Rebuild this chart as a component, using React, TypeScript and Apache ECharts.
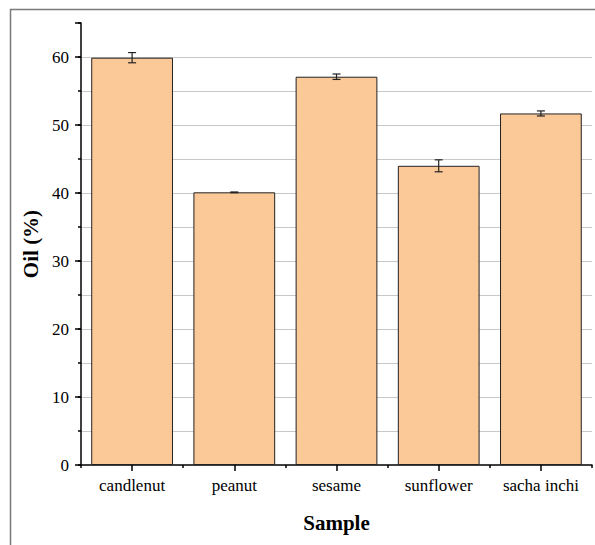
import React, { useEffect, useRef } from "react";
import * as echarts from "echarts";

const categories = ["candlenut", "peanut", "sesame", "sunflower", "sacha inchi"];
const oilValues = [59.9, 40.1, 57.1, 44.0, 51.7];
const oilErrors = [0.75, 0.05, 0.4, 0.88, 0.37];

const FONT = "'Liberation Serif', 'Times New Roman', serif";

export default function App() {
  const ref = useRef<HTMLDivElement>(null);
  useEffect(() => {
    document.body.style.margin = "0";
    if (!ref.current) return;
    const chart = echarts.init(ref.current, null, { renderer: "svg" });
    const errData = categories.map((_, i) => [i, oilValues[i], oilErrors[i]]);
    chart.setOption({
      animation: false,
      backgroundColor: "#ffffff",
      textStyle: { fontFamily: FONT },
      graphic: [
        {
          type: "line",
          shape: { x1: 82, y1: 23, x2: 600, y2: 23 },
          style: { stroke: "#ffffff", lineWidth: 3 },
          silent: true,
          z: 50,
        },
        {
          type: "rect",
          shape: { x: 10.5, y: 9.5, width: 700, height: 700 },
          style: { fill: "none", stroke: "#7a7a7a", lineWidth: 1.5 },
          silent: true,
          z: 100,
        },
      ],
      grid: { left: 81, right: 3, top: 23, bottom: 80, containLabel: false },
      xAxis: [
        {
          type: "category",
          data: categories,
          name: "Sample",
          nameLocation: "middle",
          nameGap: 47,
          nameTextStyle: { fontFamily: FONT, fontSize: 21, fontWeight: "bold", color: "#000" },
          axisLine: { show: true, lineStyle: { color: "#000", width: 1.5 } },
          axisTick: { show: true, alignWithLabel: true, length: 6, lineStyle: { color: "#000", width: 1.5 } },
          axisLabel: { fontFamily: FONT, fontSize: 17, color: "#000", margin: 12 },
          splitLine: { show: false },
        },
        {
          type: "category",
          data: categories,
          position: "bottom",
          axisLine: { show: false },
          axisTick: { show: true, length: 3, lineStyle: { color: "#000", width: 1.5 } },
          axisLabel: { show: false },
          splitLine: { show: false },
        },
      ],
      yAxis: [
        {
          type: "value",
          min: 0,
          max: 65,
          interval: 10,
          name: "Oil (%)",
          nameLocation: "middle",
          nameGap: 38,
          nameRotate: 90,
          nameTextStyle: { fontFamily: FONT, fontSize: 21, fontWeight: "bold", color: "#000" },
          axisLine: { show: true, lineStyle: { color: "#000", width: 1.5 } },
          axisTick: { show: true, length: 6, lineStyle: { color: "#000", width: 1.5 } },
          axisLabel: {
            fontFamily: FONT,
            fontSize: 17,
            color: "#000",
            margin: 12,
            formatter: (v: number) => (v % 10 === 0 ? String(v) : ""),
          },
          splitLine: { show: false },
        },
        {
          type: "value",
          min: 0,
          max: 65,
          interval: 5,
          position: "left",
          axisLine: { show: false },
          axisTick: { show: true, length: 3, lineStyle: { color: "#000", width: 1.5 } },
          axisLabel: { show: false },
          splitLine: { show: true, showMaxLine: false, showMinLine: false, lineStyle: { color: "#c8c8c8", width: 1 } },
        },
      ],
      series: [
        {
          type: "bar",
          data: oilValues,
          xAxisIndex: 0,
          yAxisIndex: 0,
          barCategoryGap: "20%",
          itemStyle: { color: "#FBC898", borderColor: "#222", borderWidth: 1 },
          z: 2,
        },
        {
          type: "custom",
          xAxisIndex: 0,
          yAxisIndex: 0,
          data: errData,
          z: 3,
          renderItem: (params: any, api: any) => {
            const x = api.value(0);
            const v = api.value(1);
            const e = api.value(2);
            const top = api.coord([x, v + e]);
            const bot = api.coord([x, v - e]);
            const hw = 4;
            const style = { stroke: "#222", lineWidth: 1.2 };
            return {
              type: "group",
              children: [
                { type: "line", shape: { x1: top[0], y1: top[1], x2: bot[0], y2: bot[1] }, style },
                { type: "line", shape: { x1: top[0] - hw, y1: top[1], x2: top[0] + hw, y2: top[1] }, style },
                { type: "line", shape: { x1: bot[0] - hw, y1: bot[1], x2: bot[0] + hw, y2: bot[1] }, style },
              ],
            };
          },
        },
      ],
    });
    return () => chart.dispose();
  }, []);
  return <div ref={ref} style={{ width: 595, height: 545 }} />;
}
